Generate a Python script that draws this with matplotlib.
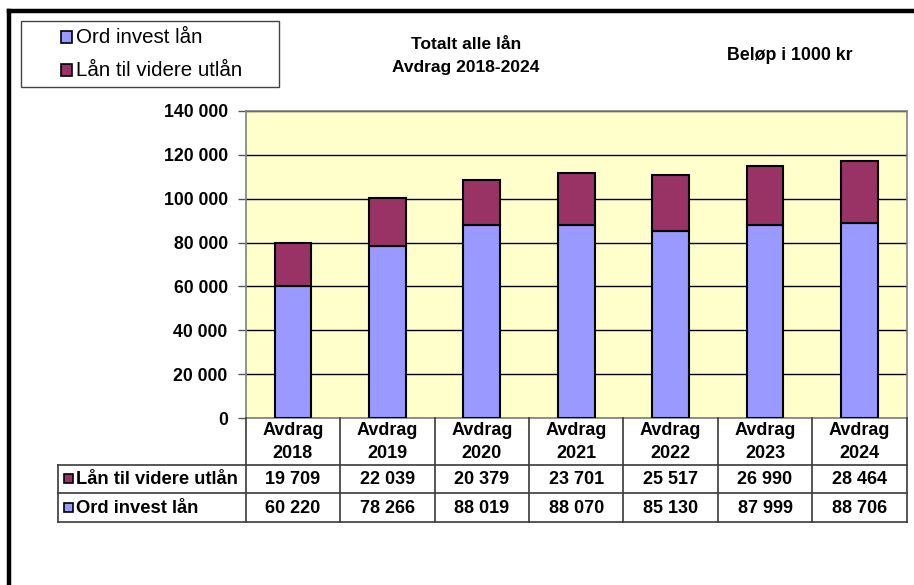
import matplotlib
matplotlib.use('Agg')
import matplotlib.pyplot as plt
from matplotlib.patches import Rectangle
from matplotlib.lines import Line2D

plt.rcParams['font.family'] = ['Liberation Sans', 'DejaVu Sans']

years = ['2018', '2019', '2020', '2021', '2022', '2023', '2024']
ord_invest = [60220, 78266, 88019, 88070, 85130, 87999, 88706]
videre_utlan = [19709, 22039, 20379, 23701, 25517, 26990, 28464]
series_names = ['Ord invest lån', 'Lån til videre utlån']
yticks = [0, 20000, 40000, 60000, 80000, 100000, 120000, 140000]

blue = '#9999FF'
maroon = '#993366'
plot_bg = '#FFFFCC'
line_col = '#3a3a3a'

W, H = 914, 585


def fx(px):
    return px / W


def fy(py):
    return 1 - py / H


def fmt(v):
    return f'{v:,}'.replace(',', ' ')


fig = plt.figure(figsize=(W / 100, H / 100), dpi=100)

# outer frame (top and left visible)
fig.add_artist(Line2D([fx(8.5), fx(914)], [fy(10.8), fy(10.8)], color='black', lw=3.2))
fig.add_artist(Line2D([fx(8.5), fx(8.5)], [fy(10.8), fy(585)], color='black', lw=3.2))

left, right, top, bottom = 245.7, 906.7, 110.7, 418.3
ax = fig.add_axes([fx(left), fy(bottom), fx(right - left), (bottom - top) / H])
ax.set_facecolor(plot_bg)

x = range(len(years))
ax.bar(x, ord_invest, width=0.39, color=blue, edgecolor='black', lw=1.5, zorder=3)
ax.bar(x, videre_utlan, bottom=ord_invest, width=0.39, color=maroon,
       edgecolor='black', lw=1.5, zorder=3)

ax.set_xlim(-0.5, len(years) - 0.5)
ax.set_ylim(0, 140000)
ax.set_yticks(yticks)
ax.set_yticklabels([fmt(v) for v in yticks], fontsize=12.7, fontweight='bold')
ax.yaxis.grid(True, color='black', lw=1.0, zorder=1)
ax.set_axisbelow(True)
ax.tick_params(axis='y', length=6, width=1, color='#555555', pad=7)
ax.set_xticks([])
for sp in ax.spines.values():
    sp.set_color('#808080')
    sp.set_linewidth(1.2)

# data table below the plot
cat_w = (right - left) / len(years)
h_bot, r1_bot, r2_bot = 465, 492.7, 521.7
lab_left = 57.7
for k in range(len(years) + 1):
    xx = left + k * cat_w
    fig.add_artist(Line2D([fx(xx), fx(xx)], [fy(bottom), fy(r2_bot)], color=line_col, lw=1.2))
fig.add_artist(Line2D([fx(lab_left), fx(lab_left)], [fy(h_bot), fy(r2_bot)], color=line_col, lw=1.2))
for yy in (h_bot, r1_bot, r2_bot):
    fig.add_artist(Line2D([fx(lab_left), fx(right)], [fy(yy), fy(yy)], color=line_col, lw=1.2))

for i, yr in enumerate(years):
    cx = left + (i + 0.5) * cat_w
    fig.text(fx(cx), fy((bottom + h_bot) / 2 + 0.5), f'Avdrag\n{yr}', ha='center', va='center',
             fontsize=13, fontweight='bold', linespacing=1.45)
    fig.text(fx(cx), fy((h_bot + r1_bot) / 2 + 1), fmt(videre_utlan[i]), ha='center',
             va='center', fontsize=13, fontweight='bold')
    fig.text(fx(cx), fy((r1_bot + r2_bot) / 2 + 1), fmt(ord_invest[i]), ha='center',
             va='center', fontsize=13, fontweight='bold')

for name, col, y0, y1 in [(series_names[1], maroon, h_bot, r1_bot),
                          (series_names[0], blue, r1_bot, r2_bot)]:
    cy = (y0 + y1) / 2
    fig.add_artist(Rectangle((fx(63.5), fy(cy + 4.5)), fx(9), 9 / H, facecolor=col,
                             edgecolor='black', lw=1.2))
    fig.text(fx(76), fy(cy + 1), name, ha='left', va='center', fontsize=13.2, fontweight='bold')

# legend box
fig.add_artist(Rectangle((fx(20.7), fy(87)), fx(279 - 20.7), (87 - 21) / H, facecolor='white',
                         edgecolor='#444444', lw=1.0))
for name, col, cy in [(series_names[0], blue, 37.5), (series_names[1], maroon, 70.5)]:
    fig.add_artist(Rectangle((fx(61), fy(cy + 5)), fx(11), 11 / H, facecolor=col,
                             edgecolor='black', lw=1.2))
    fig.text(fx(76), fy(cy), name, ha='left', va='center', fontsize=14.8)

# titles
fig.text(fx(466), fy(56), 'Totalt alle lån\nAvdrag 2018-2024', ha='center', va='center',
         fontsize=12.5, fontweight='bold', linespacing=1.6)
fig.text(fx(790), fy(56), 'Beløp i 1000 kr', ha='center', va='center',
         fontsize=12.8, fontweight='bold')

fig.savefig('out.png', dpi=100)
